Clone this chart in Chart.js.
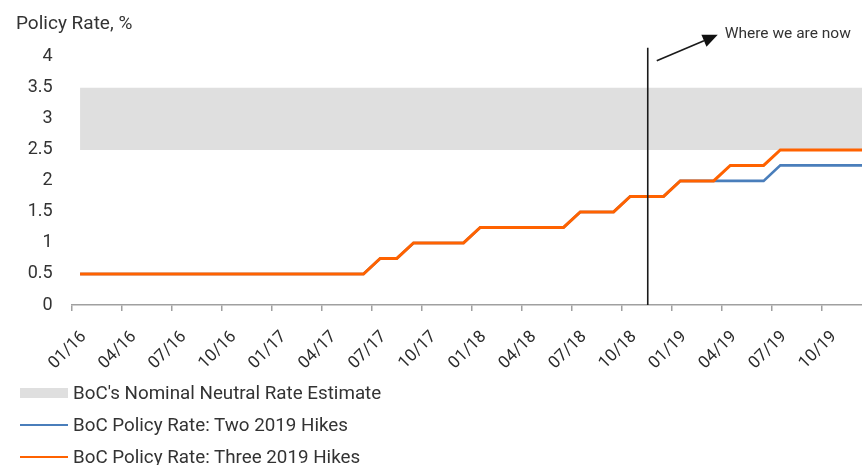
<!DOCTYPE html>
<html>
<head>
<meta charset="utf-8">
<script src="https://cdn.jsdelivr.net/npm/chart.js@4.4.1/dist/chart.umd.min.js"></script>
<style>
  html, body { margin: 0; padding: 0; background: #fff; overflow: hidden; }
  #wrap { position: relative; width: 862px; height: 465px; }
  canvas { display: block; }
  #legend { position: absolute; left: 20px; top: 377px; font-family: Roboto, sans-serif; font-size: 18.8px; color: #333; }
  #legend .item { display: flex; align-items: center; height: 32px; white-space: nowrap; }
  #legend .swatch { width: 48px; margin-right: 5px; }
</style>
</head>
<body>
<div id="wrap">
  <canvas id="chart" width="862" height="465"></canvas>
  <div id="legend"></div>
</div>
<script>
// Monthly categories, Jan 2016 - Dec 2019
const months = [
  '01/16','02/16','03/16','04/16','05/16','06/16','07/16','08/16','09/16','10/16','11/16','12/16',
  '01/17','02/17','03/17','04/17','05/17','06/17','07/17','08/17','09/17','10/17','11/17','12/17',
  '01/18','02/18','03/18','04/18','05/18','06/18','07/18','08/18','09/18','10/18','11/18','12/18',
  '01/19','02/19','03/19','04/19','05/19','06/19','07/19','08/19','09/19','10/19','11/19','12/19'
];

// Labelled months on the x axis
const tickLabels = ['01/16','04/16','07/16','10/16','01/17','04/17','07/17','10/17',
                    '01/18','04/18','07/18','10/18','01/19','04/19','07/19','10/19'];

// Bank of Canada policy rate, % (scenario with three hikes in 2019)
const threeHikes = [
  0.5, 0.5, 0.5, 0.5, 0.5, 0.5, 0.5, 0.5, 0.5, 0.5, 0.5, 0.5,
  0.5, 0.5, 0.5, 0.5, 0.5, 0.5, 0.75, 0.75, 1.0, 1.0, 1.0, 1.0,
  1.25, 1.25, 1.25, 1.25, 1.25, 1.25, 1.5, 1.5, 1.5, 1.75, 1.75, 1.75,
  2.0, 2.0, 2.0, 2.25, 2.25, 2.25, 2.5, 2.5, 2.5, 2.5, 2.5, 2.5
];

// Bank of Canada policy rate, % (scenario with two hikes in 2019)
const twoHikes = [
  0.5, 0.5, 0.5, 0.5, 0.5, 0.5, 0.5, 0.5, 0.5, 0.5, 0.5, 0.5,
  0.5, 0.5, 0.5, 0.5, 0.5, 0.5, 0.75, 0.75, 1.0, 1.0, 1.0, 1.0,
  1.25, 1.25, 1.25, 1.25, 1.25, 1.25, 1.5, 1.5, 1.5, 1.75, 1.75, 1.75,
  2.0, 2.0, 2.0, 2.0, 2.0, 2.0, 2.25, 2.25, 2.25, 2.25, 2.25, 2.25
];

// Neutral rate estimate range: upper bound per month, lower bound of the band
const neutralUpper = [
  3.5, 3.5, 3.5, 3.5, 3.5, 3.5, 3.5, 3.5, 3.5, 3.5, 3.5, 3.5,
  3.5, 3.5, 3.5, 3.5, 3.5, 3.5, 3.5, 3.5, 3.5, 3.5, 3.5, 3.5,
  3.5, 3.5, 3.5, 3.5, 3.5, 3.5, 3.5, 3.5, 3.5, 3.5, 3.5, 3.5,
  3.5, 3.5, 3.5, 3.5, 3.5, 3.5, 3.5, 3.5, 3.5, 3.5, 3.5, 3.5
];
const neutralLower = 2.5;

// y axis ticks
const yTicks = [0, 0.5, 1, 1.5, 2, 2.5, 3, 3.5, 4];

// Position (in months from Jan 2016) of the "now" marker
const nowIndex = 34.05;

const FONT = 'Roboto, "Open Sans", sans-serif';
const TEXT = '#333333';
const ORANGE = '#FF6200';
const BLUE = '#4A7EBB';
const BAND = '#DFDFDF';

const toPoints = arr => arr.map((v, i) => ({ x: i, y: v }));

// Vertical "now" line with an arrow and its caption
const nowMarker = {
  id: 'nowMarker',
  afterDatasetsDraw(chart) {
    const { ctx, scales: { x, y } } = chart;
    const px = x.getPixelForValue(nowIndex);
    const top = y.getPixelForValue(yTicks[yTicks.length - 1]) - 9;
    const bottom = y.getPixelForValue(0);
    ctx.save();
    ctx.strokeStyle = '#1a1a1a';
    ctx.lineWidth = 1.6;
    ctx.beginPath();
    ctx.moveTo(px, top);
    ctx.lineTo(px, bottom);
    ctx.stroke();

    const sx = px + 9, sy = top + 13, tx = px + 70, ty = top - 13;
    const ang = Math.atan2(ty - sy, tx - sx);
    const head = 15, half = 6.5;
    const bx = tx - head * Math.cos(ang), by = ty - head * Math.sin(ang);
    ctx.beginPath();
    ctx.moveTo(sx, sy);
    ctx.lineTo(bx, by);
    ctx.stroke();
    ctx.fillStyle = '#111';
    ctx.beginPath();
    ctx.moveTo(tx, ty);
    ctx.lineTo(bx - half * Math.sin(ang), by + half * Math.cos(ang));
    ctx.lineTo(bx + half * Math.sin(ang), by - half * Math.cos(ang));
    ctx.closePath();
    ctx.fill();

    ctx.font = '15.5px ' + FONT;
    ctx.fillStyle = TEXT;
    ctx.textBaseline = 'middle';
    ctx.textAlign = 'left';
    ctx.fillText('Where we are now', tx + 7, ty - 1);
    ctx.restore();
  }
};

const chart = new Chart(document.getElementById('chart'), {
  type: 'line',
  data: {
    datasets: [
      {
        label: "BoC's Nominal Neutral Rate Estimate",
        data: toPoints(neutralUpper),
        fill: { value: neutralLower },
        backgroundColor: BAND,
        borderColor: 'transparent',
        borderWidth: 0,
        pointRadius: 0,
        order: 2,
        legendKind: 'box'
      },
      {
        label: 'BoC Policy Rate: Two 2019 Hikes',
        data: toPoints(twoHikes),
        borderColor: BLUE,
        borderWidth: 2.6,
        pointRadius: 0,
        fill: false,
        order: 1,
        legendKind: 'line'
      },
      {
        label: 'BoC Policy Rate: Three 2019 Hikes',
        data: toPoints(threeHikes),
        borderColor: ORANGE,
        borderWidth: 3,
        pointRadius: 0,
        fill: false,
        order: 0,
        legendKind: 'line'
      }
    ]
  },
  options: {
    responsive: false,
    animation: false,
    devicePixelRatio: 1,
    layout: { padding: { left: 16, right: 0, top: 0, bottom: 85 } },
    plugins: {
      legend: { display: false },
      tooltip: { enabled: false },
      title: {
        display: true,
        text: 'Policy Rate, %',
        align: 'start',
        color: TEXT,
        font: { family: FONT, size: 19, weight: 'normal' },
        padding: { top: 13, bottom: 21 }
      }
    },
    scales: {
      x: {
        type: 'linear',
        min: -0.5,
        max: 46.9,
        afterBuildTicks(scale) {
          scale.ticks = tickLabels.map(l => ({ value: months.indexOf(l) - 0.5 }));
        },
        afterFit(scale) { scale.height = 75; },
        border: { display: true, color: '#A0A0A0', width: 1.5 },
        grid: { drawOnChartArea: false, drawTicks: true, tickLength: 6, color: '#A0A0A0', lineWidth: 1.5 },
        ticks: {
          autoSkip: false,
          minRotation: 45,
          maxRotation: 45,
          labelOffset: 12,
          padding: 16,
          color: '#2b2b2b',
          font: { family: FONT, size: 17 },
          callback: v => months[Math.round(v + 0.5)]
        }
      },
      y: {
        min: 0,
        max: 4,
        afterBuildTicks(scale) {
          scale.ticks = yTicks.map(v => ({ value: v }));
        },
        afterFit(scale) { scale.width = 55.7; },
        border: { display: false },
        grid: { display: false, drawTicks: false },
        ticks: {
          padding: 19,
          color: TEXT,
          font: { family: FONT, size: 18 },
          callback: v => String(v)
        }
      }
    }
  },
  plugins: [nowMarker]
});

// Legend stacked under the chart, built from the dataset definitions
const legendEl = document.getElementById('legend');
chart.data.datasets.forEach(ds => {
  const item = document.createElement('div');
  item.className = 'item';
  const sw = document.createElement('span');
  sw.className = 'swatch';
  if (ds.legendKind === 'box') {
    sw.style.height = '10px';
    sw.style.background = ds.backgroundColor;
  } else {
    sw.style.height = '2.5px';
    sw.style.background = ds.borderColor;
  }
  const txt = document.createElement('span');
  txt.textContent = ds.label;
  item.appendChild(sw);
  item.appendChild(txt);
  legendEl.appendChild(item);
});
</script>
</body>
</html>
